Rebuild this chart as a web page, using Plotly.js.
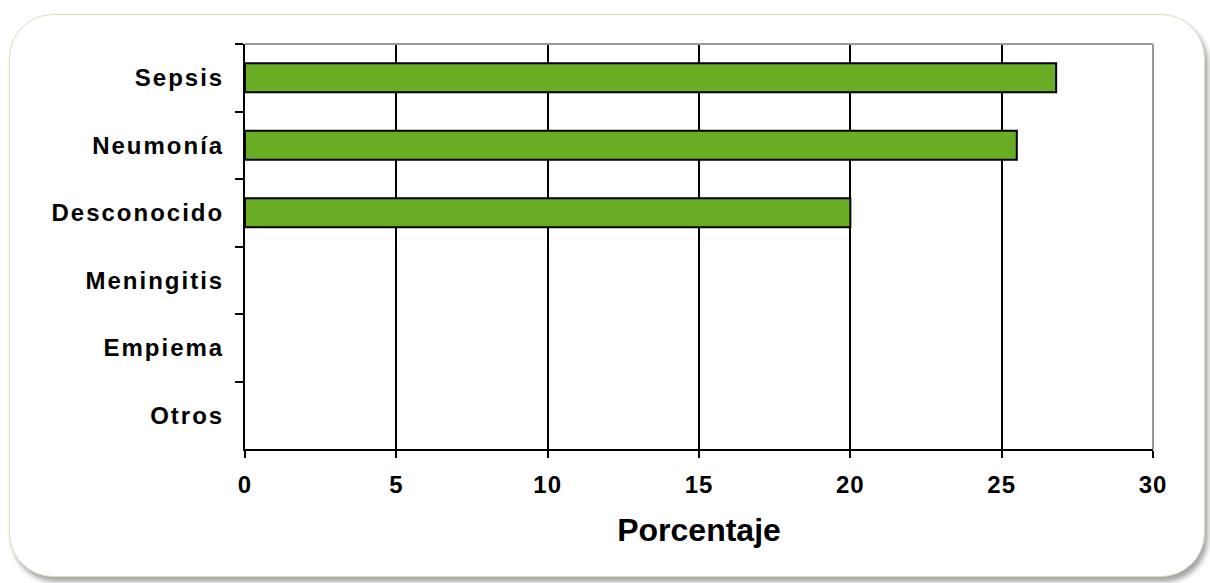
<!DOCTYPE html>
<html>
<head>
<meta charset="utf-8">
<script src="https://cdn.plot.ly/plotly-3.0.1.min.js"></script>
<style>
  html, body { margin: 0; padding: 0; background: #ffffff; width: 1210px; height: 583px; overflow: hidden; }
  #frame {
    position: absolute; left: 9px; top: 14px; width: 1194px; height: 561px;
    border: 1px solid #cfe3bd; border-radius: 44px;
    box-shadow: 3px 5px 5px rgba(0,0,0,0.35);
    background: #ffffff;
  }
  #chart { position: absolute; left: 0; top: 0; width: 1210px; height: 583px; }
  #chart .ytick text { letter-spacing: 2px; }
  #chart .xtick text { letter-spacing: 1px; }
</style>
</head>
<body>
<div id="frame"></div>
<div id="chart"></div>
<script>
const categories = ["Sepsis", "Neumonía", "Desconocido", "Meningitis", "Empiema", "Otros"];
const values = [26.8, 25.5, 20, 0, 0, 0];
const xTicks = [0, 5, 10, 15, 20, 25, 30];
const xTitle = "Porcentaje";

const font = "Liberation Sans, Arial, sans-serif";

const trace = {
  type: "bar",
  orientation: "h",
  y: categories,
  x: values,
  marker: { color: "#69ad24", line: { color: "#000000", width: values.map(v => v > 0 ? 2 : 0) } },
  hoverinfo: "skip"
};

const layout = {
  width: 1210, height: 583,
  margin: { l: 245, r: 57, t: 44, b: 134 },
  paper_bgcolor: "rgba(0,0,0,0)",
  plot_bgcolor: "rgba(0,0,0,0)",
  showlegend: false,
  bargap: 0.57,
  font: { family: font, color: "#000000" },
  xaxis: {
    range: [0, 30],
    tickvals: xTicks,
    ticktext: xTicks.map(String),
    showgrid: true, gridcolor: "#000000", gridwidth: 2,
    showline: true, linecolor: "#000000", linewidth: 2,
    ticks: "outside", ticklen: 7, tickwidth: 2, tickcolor: "#000000",
    tickfont: { family: font, size: 24, color: "#000000", weight: "bold" },
    ticklabelstandoff: 6,
    zeroline: false,
    title: { text: xTitle, font: { family: font, size: 32, color: "#000000", weight: "bold" }, standoff: 22 }
  },
  yaxis: {
    type: "category",
    categoryorder: "array",
    categoryarray: categories,
    autorange: "reversed",
    showgrid: false,
    showline: true, linecolor: "#000000", linewidth: 2,
    ticks: "outside", tickson: "boundaries", ticklen: 8, tickwidth: 2, tickcolor: "#000000",
    tickfont: { family: font, size: 24, color: "#000000", weight: "bold" },
    ticklabelstandoff: 14,
    zeroline: false
  },
  shapes: [
    { type: "line", xref: "paper", yref: "paper", x0: 0, x1: 1, y0: 1, y1: 1, line: { color: "#9a9a9a", width: 2 }, layer: "above" },
    { type: "line", xref: "paper", yref: "paper", x0: 1, x1: 1, y0: 0, y1: 1, line: { color: "#9a9a9a", width: 2 }, layer: "above" }
  ]
};

Plotly.newPlot("chart", [trace], layout, { displayModeBar: false, staticPlot: true });
</script>
</body>
</html>
